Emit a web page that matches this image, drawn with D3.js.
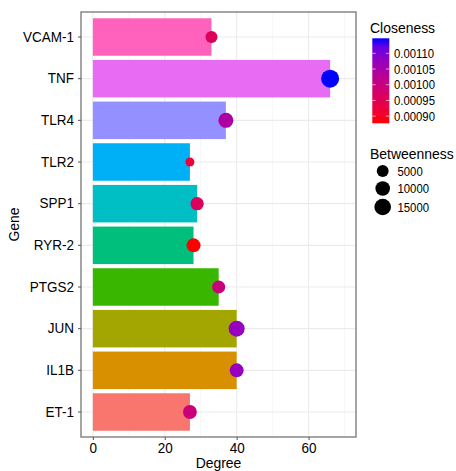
<!DOCTYPE html>
<html>
<head>
<meta charset="utf-8">
<script src="https://cdn.jsdelivr.net/npm/d3@7"></script>
<style>
  body { margin: 0; background: #fff; }
  svg text { font-family: "Liberation Sans", Arial, sans-serif; }
</style>
</head>
<body>
<div id="chart"></div>
<script>
// genes listed top to bottom, as in the picture
const genes = ['VCAM-1', 'TNF', 'TLR4', 'TLR2', 'SPP1', 'RYR-2', 'PTGS2', 'JUN', 'IL1B', 'ET-1'];
const degree = [33, 66, 37, 27, 29, 28, 35, 40, 40, 27];
const closeness = [0.000958, 0.001148, 0.001045, 0.000918, 0.000960, 0.000877, 0.000998, 0.001075, 0.001075, 0.000995];
const betweenness = [5200, 19000, 11000, 1500, 7500, 8800, 7000, 13400, 8800, 8500];
const barColors = ['#FF62BC', '#E76BF3', '#9590FF', '#00B0F6', '#00BFC4', '#00BF7D', '#39B600', '#A3A500', '#D89000', '#F8766D'];
const xTicks = [0, 20, 40, 60];
const xMinor = [10, 30, 50, 70];
const closenessTicks = [0.0009, 0.00095, 0.0010, 0.00105, 0.0011];
const betweennessTicks = [5000, 10000, 15000];

const rows = genes.map((g, i) => ({
  gene: g, degree: degree[i], closeness: closeness[i], betweenness: betweenness[i], fill: barColors[i]
}));

const W = 456, H = 471;
const panel = { left: 81, top: 12, right: 356, bottom: 437 };

const svg = d3.select('#chart').append('svg')
  .attr('width', W)
  .attr('height', H);

const x = d3.scaleLinear().domain([-3.3, 73.2]).range([panel.left, panel.right]);
const y = d3.scaleBand().domain(genes).range([panel.top, panel.bottom])
  .paddingInner(0.1).paddingOuter(0.15);
const yc = d => y(d) + y.bandwidth() / 2;

const cExtent = d3.extent(closeness);
const color = d3.scaleLinear().domain(cExtent).range(['red', 'blue']).interpolate(d3.interpolateLab);
const size = d3.scaleSqrt().domain(d3.extent(betweenness)).range([4.5, 9]);

// grid
const grid = svg.append('g');
grid.selectAll('.minor').data(xMinor).enter().append('line')
  .attr('x1', d => x(d)).attr('x2', d => x(d))
  .attr('y1', panel.top).attr('y2', panel.bottom)
  .attr('stroke', '#f2f2f2').attr('stroke-width', 0.6);
grid.selectAll('.majx').data(xTicks).enter().append('line')
  .attr('x1', d => x(d)).attr('x2', d => x(d))
  .attr('y1', panel.top).attr('y2', panel.bottom)
  .attr('stroke', '#ebebeb').attr('stroke-width', 1.1);
grid.selectAll('.majy').data(genes).enter().append('line')
  .attr('x1', panel.left).attr('x2', panel.right)
  .attr('y1', d => yc(d)).attr('y2', d => yc(d))
  .attr('stroke', '#ebebeb').attr('stroke-width', 1.1);

// bars
svg.append('g').selectAll('rect').data(rows).enter().append('rect')
  .attr('x', x(0))
  .attr('y', d => y(d.gene))
  .attr('width', d => x(d.degree) - x(0))
  .attr('height', y.bandwidth())
  .attr('fill', d => d.fill);

// points
svg.append('g').selectAll('circle').data(rows).enter().append('circle')
  .attr('cx', d => x(d.degree))
  .attr('cy', d => yc(d.gene))
  .attr('r', d => size(d.betweenness))
  .attr('fill', d => color(d.closeness));

// panel border
svg.append('rect')
  .attr('x', panel.left).attr('y', panel.top)
  .attr('width', panel.right - panel.left).attr('height', panel.bottom - panel.top)
  .attr('fill', 'none').attr('stroke', '#7f7f7f').attr('stroke-width', 1.4);

// axes
const yAxis = svg.append('g')
  .attr('transform', `translate(${panel.left},0)`)
  .call(d3.axisLeft(y).tickSize(3).tickSizeOuter(0).tickPadding(4));
const xAxis = svg.append('g')
  .attr('transform', `translate(0,${panel.bottom})`)
  .call(d3.axisBottom(x).tickValues(xTicks).tickSize(3).tickSizeOuter(0).tickPadding(2.5));
[yAxis, xAxis].forEach(a => {
  a.select('.domain').remove();
  a.selectAll('line').attr('stroke', '#555').attr('stroke-width', 1);
  a.selectAll('text').attr('fill', '#000').style('font-size', '15px');
});

svg.append('text')
  .attr('x', (panel.left + panel.right) / 2).attr('y', 468)
  .attr('text-anchor', 'middle').style('font-size', '15.5px')
  .text('Degree');
svg.append('text')
  .attr('transform', `translate(19,${(panel.top + panel.bottom) / 2}) rotate(-90)`)
  .attr('text-anchor', 'middle').style('font-size', '15.5px')
  .text('Gene');

// closeness legend
const leg = svg.append('g');
leg.append('text').attr('x', 370).attr('y', 33.5).style('font-size', '15.5px').text('Closeness');
const barTop = 38.3, barBot = 123.3, barL = 372.3, barW = 17;
const defs = svg.append('defs');
const grad = defs.append('linearGradient').attr('id', 'cgrad')
  .attr('x1', 0).attr('y1', 1).attr('x2', 0).attr('y2', 0);
d3.range(0, 1.0001, 0.1).forEach(t => {
  grad.append('stop').attr('offset', t)
    .attr('stop-color', color(cExtent[0] + t * (cExtent[1] - cExtent[0])));
});
leg.append('rect').attr('x', barL).attr('y', barTop).attr('width', barW).attr('height', barBot - barTop)
  .attr('fill', 'url(#cgrad)');
const cy = d3.scaleLinear().domain(cExtent).range([barBot, barTop]);
const ct = leg.selectAll('.ct').data(closenessTicks).enter().append('g');
ct.append('line').attr('x1', barL).attr('x2', barL + 3.4)
  .attr('y1', d => cy(d)).attr('y2', d => cy(d)).attr('stroke', '#fff').attr('stroke-width', 0.6);
ct.append('line').attr('x1', barL + barW - 3.4).attr('x2', barL + barW)
  .attr('y1', d => cy(d)).attr('y2', d => cy(d)).attr('stroke', '#fff').attr('stroke-width', 0.6);
ct.append('text').attr('x', 394).attr('y', d => cy(d)).attr('dy', '0.36em')
  .style('font-size', '12.6px').attr('fill', '#000')
  .text(d => d.toFixed(5));

// betweenness legend
leg.append('text').attr('x', 370).attr('y', 159.5).style('font-size', '15.5px').text('Betweenness');
const keyY = [171, 188.5, 207];
const bk = leg.selectAll('.bk').data(betweennessTicks).enter().append('g');
bk.append('circle').attr('cx', 382.7).attr('cy', (d, i) => keyY[i]).attr('r', d => size(d)).attr('fill', '#000');
bk.append('text').attr('x', 397.5).attr('y', (d, i) => keyY[i]).attr('dy', '0.36em')
  .style('font-size', '12.6px').attr('fill', '#000').text(d => d);

// the reference font is a bit narrower than Liberation Sans: squeeze text horizontally
svg.selectAll('text').each(function() {
  const t = d3.select(this);
  const tx = +t.attr('x') || 0, ty = +t.attr('y') || 0;
  const prev = t.attr('transform') || '';
  t.attr('transform', `${prev} translate(${tx},${ty}) scale(0.9,1) translate(${-tx},${-ty})`);
});
</script>
</body>
</html>
